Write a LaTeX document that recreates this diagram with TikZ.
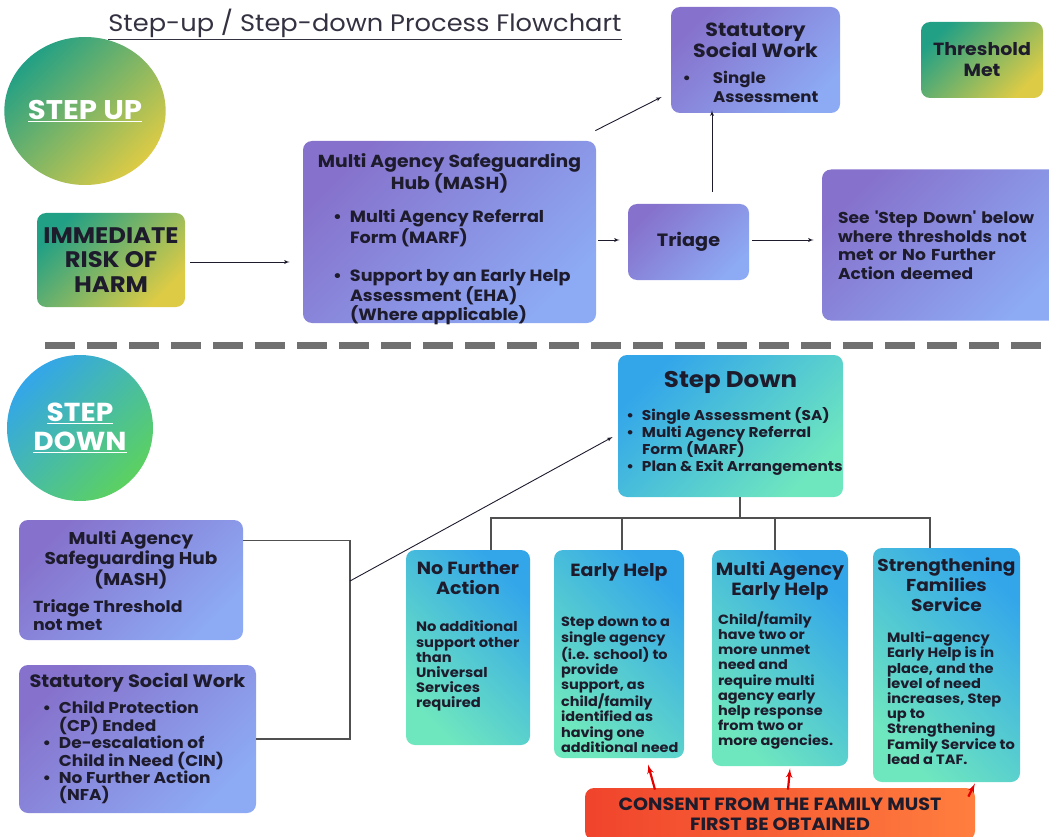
\documentclass[tikz,border=0pt]{standalone}
\usepackage{fontspec}
\setmainfont{Poppins}[FakeStretch=1.08]
\usetikzlibrary{arrows,shapes.geometric}

\definecolor{ink}{HTML}{1D1B2C}
\definecolor{purpA}{HTML}{8672CC}
\definecolor{purpB}{HTML}{8DAAF4}
\definecolor{grnA}{HTML}{22A085}
\definecolor{yelB}{HTML}{DDCB45}
\definecolor{bluA}{HTML}{33A6EA}
\definecolor{aquB}{HTML}{6FE7BE}
\definecolor{grnC}{HTML}{5CD160}
\definecolor{redA}{HTML}{F0442C}
\definecolor{orgB}{HTML}{FF7E3E}
\definecolor{dashgray}{HTML}{707070}
\definecolor{wiregray}{HTML}{505050}

\newcommand\fsz[2]{\fontsize{#1}{#2}\selectfont}
\newcommand\bul[3][8pt]{\par{\leftskip=#2pt\relax\noindent\llap{\textbullet\hspace{#1}}#3\par}}
\newcommand\lft[2]{\par{\leftskip=#1pt\relax\noindent #2\par}}
\newcommand\inbox[3]{\parbox[c][#2pt][t]{#1pt}{\raggedright #3}}

\begin{document}
\begin{tikzpicture}[x=1pt, y=-1pt, >=latex', thick]
    \tikzstyle{box}=[rounded corners=9pt, inner sep=0pt, text=ink, font=\bfseries]
    \tikzstyle{pbox}=[box, top color=purpA, bottom color=purpB, shading angle=45]
    \tikzstyle{gbox}=[box, top color=grnA, bottom color=yelB, shading angle=45]
    \tikzstyle{abox}=[box, top color=bluA, bottom color=aquB, shading angle=-45]
    \tikzstyle{disc}=[inner sep=0pt, text=white]
    \tikzstyle{arr}=[->, draw=ink, line width=0.9pt]
    \tikzstyle{wire}=[draw=wiregray, line width=1.2pt]
    \tikzstyle{redarr}=[->, draw=red!90!black, line width=2.2pt]

    \useasboundingbox (0,0) rectangle (1049,837);

    % step up half
    \node[text=ink!90, font=\fsz{23.8}{30}] (title) at (365,24) {\underline{Step-up / Step-down Process Flowchart}};
    \node[disc, ellipse, minimum width=126, minimum height=148, top color=grnA, bottom color=yelB, shading angle=45, font=\bfseries\fsz{27}{32}] (stepup) at (85,111) {\underline{STEP UP}};

    \node[gbox, minimum width=148, minimum height=94, align=center, font=\bfseries\fsz{22.5}{24.5}] (risk) at (111,260) {IMMEDIATE\\RISK OF\\HARM};
    \node[pbox] (mashU) at (449.5,232) {\inbox{293}{182}{\vspace*{12.3pt}{\centering\fsz{17.4}{22}Multi Agency Safeguarding\\Hub (MASH)\par}\vspace{16pt}\fsz{16.3}{17.5}\bul{47}{Multi Agency Referral\\Form (MARF)}\vspace{20.5pt}\bul{47}{Support by an Early Help\\Assessment (EHA)\\(Where applicable)}}};
    \node[pbox, minimum width=121, minimum height=76, font=\bfseries\fsz{17.8}{20}] (triage) at (688.5,242) {Triage};
    \node[pbox] (sswU) at (755.5,60) {\inbox{169}{106}{\vspace*{15.8pt}{\centering\fsz{19}{19}Statutory\\Social Work\par}\vspace{6.7pt}\fsz{15.4}{19}\bul[22pt]{42}{Single\\Assessment}}};
    \node[gbox, minimum width=122, minimum height=76, align=center, font=\bfseries\fsz{17.6}{21}] (thresh) at (982,60) {Threshold\\Met};
    \node[pbox, minimum width=243, minimum height=151, text width=211, align=left, font=\bfseries\fsz{15.8}{18.5}] (see) at (943.5,245) {See \textquotesingle Step Down\textquotesingle{} below\\where thresholds not\\met or No Further\\Action deemed};

    \draw[arr] ([xshift=5pt,yshift=-2pt]risk.east) -- ([xshift=-13pt,yshift=-30pt]mashU.west);
    \draw[arr] ([xshift=2pt,yshift=-8pt]mashU.east) -- ([xshift=-8pt,yshift=2pt]triage.west);
    \draw[arr] ([xshift=3pt,yshift=2pt]triage.east) -- ([xshift=-8pt,yshift=5pt]see.west);
    \draw[arr] ([xshift=23.5pt,yshift=12pt]triage.north) -- ([xshift=-43.5pt,yshift=3pt]sswU.south);
    \draw[arr] ([xshift=-1pt,yshift=10pt]mashU.north east) -- ([xshift=-9pt,yshift=-37pt]sswU.west);

    \coordinate (dl) at (45,345);
    \coordinate (dr) at (1049,345);
    \draw[dashgray, line width=7pt, dash pattern=on 30pt off 12pt] (dl) -- (dr);

    % step down half
    \node[disc, circle, minimum size=146, top color=bluA, bottom color=grnC, shading angle=45, align=center, font=\bfseries\fsz{26}{29}] (stepdn) at (80,428) {\underline{STEP}\\\underline{DOWN}};
    \node[box, top color=bluA, bottom color=aquB, shading angle=45] (sdown) at (730.5,426) {\inbox{225}{142}{\vspace*{16.4pt}{\centering\fsz{22.7}{25}Step Down\par}\vspace{12.9pt}\fsz{14.2}{17}\bul{24}{Single Assessment (SA)}\bul{24}{Multi Agency Referral\\Form (MARF)}\bul{24}{Plan \& Exit Arrangements}}};

    \node[pbox] (mashL) at (131,580) {\inbox{224}{120}{\vspace*{10.5pt}{\centering\fsz{17.1}{20}Multi Agency\\Safeguarding Hub\\(MASH)\par}\vspace{8.6pt}\fsz{16}{18}\lft{14}{Triage Threshold\\not met}}};
    \node[pbox] (sswL) at (137.5,739) {\inbox{237}{148}{\vspace*{8.2pt}{\centering\fsz{17.9}{20}Statutory Social Work\par}\vspace{8.9pt}\fsz{15.7}{17.4}\bul{40}{Child Protection\\(CP) Ended}\bul{40}{De-escalation of\\Child in Need (CIN)}\bul{40}{No Further Action\\(NFA)}}};

    \node[abox] (nfa) at (468,647.5) {\inbox{124}{195}{\vspace*{11.3pt}{\centering\fsz{17.6}{20}No Further\\Action\par}\vspace{22.4pt}\fsz{13.6}{15.2}\lft{10}{No additional\\support other\\than\\Universal\\Services\\required}}};
    \node[abox] (eh) at (619,654) {\inbox{130}{208}{\vspace*{13.3pt}{\centering\fsz{17.6}{20}Early Help\par}\vspace{35.4pt}\fsz{13.4}{15.2}\lft{7}{Step down to a\\single agency\\(i.e. school) to\\provide\\support, as\\child/family\\identified as\\having one\\additional need}}};
    \node[abox] (maeh) at (780,658) {\inbox{136}{216}{\vspace*{11.3pt}{\centering\fsz{17.6}{20}Multi Agency\\Early Help\par}\vspace{10.4pt}\fsz{13.4}{15.2}\lft{6}{Child/family\\have two or\\more unmet\\need and\\require multi\\agency early\\help response\\from two or\\more agencies.}}};
    \node[abox] (sfs) at (946.5,665) {\inbox{147}{234}{\vspace*{9.3pt}{\centering\fsz{17.2}{20}Strengthening\\Families\\Service\par}\vspace{16.4pt}\fsz{13.5}{15.2}\lft{14}{Multi-agency\\Early Help is in\\place, and the\\level of need\\increases, Step\\up to\\Strengthening\\Family Service to\\lead a TAF.}}};

    \node[box, left color=redA, right color=orgB, minimum width=390, minimum height=52, align=center, font=\bfseries\fsz{17.7}{20}] (consent) at (780,814) {CONSENT FROM THE FAMILY MUST\\FIRST BE OBTAINED};

    \coordinate (jn) at (350,581);
    \draw[wire] ([yshift=-21pt]mashL.north east) -| (jn) |- (sswL.east);
    \draw[arr] (jn) -- ([xshift=-5pt,yshift=-11pt]sdown.west);

    \coordinate (bar) at (740,518);
    \draw[wire] (sdown.south -| bar) -- (bar);
    \draw[wire] ([xshift=23pt]nfa.north) |- (bar) -| ([xshift=-16.5pt]sfs.north);
    \draw[wire] ([xshift=3pt]eh.north) |- (bar);
    \draw[wire] ([xshift=-5pt]maeh.north) |- (bar);

    \draw[redarr] ([xshift=-125pt,yshift=-2pt]consent.north) -- ([xshift=29pt,yshift=-6pt]eh.south);
    \draw[redarr] ([xshift=8pt,yshift=-2pt]consent.north) -- ([xshift=10pt,yshift=-2pt]maeh.south);
    \draw[redarr] ([xshift=-7pt,yshift=-9pt]consent.north east) -- ([xshift=28.5pt,yshift=-1pt]sfs.south);
\end{tikzpicture}
\end{document}
